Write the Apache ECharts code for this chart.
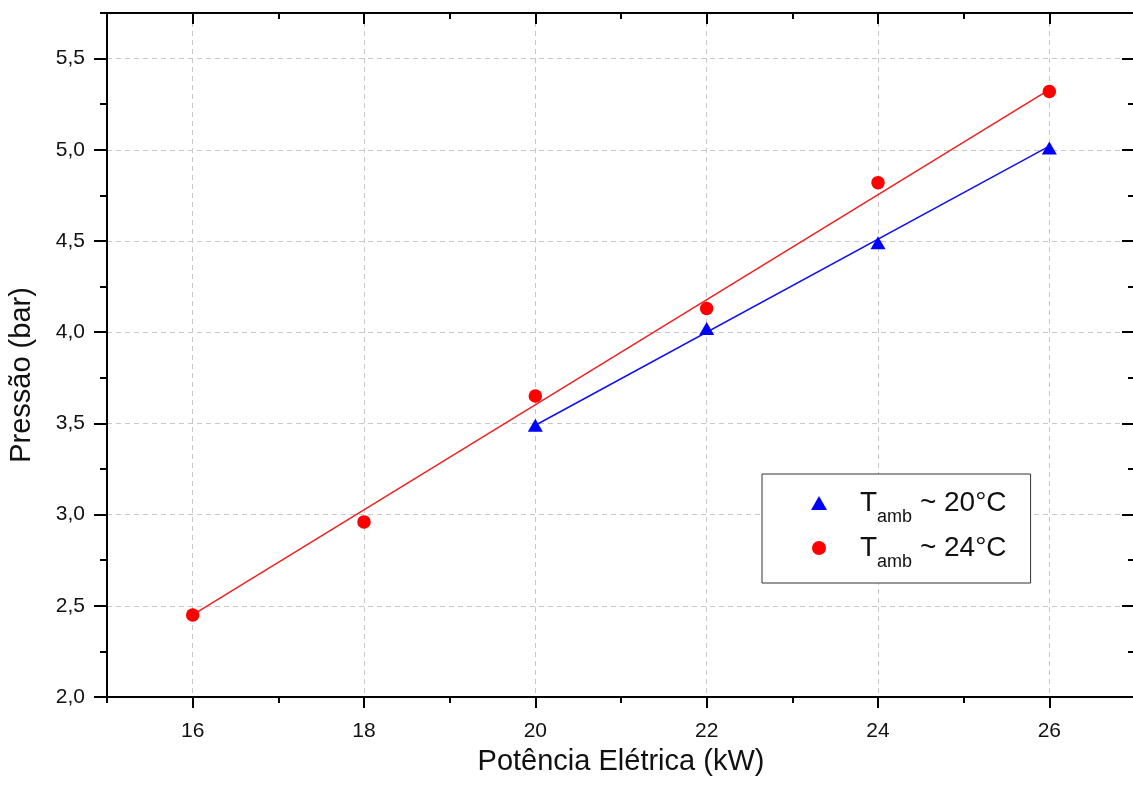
<!DOCTYPE html>
<html><head><meta charset="utf-8">
<script src="https://cdn.jsdelivr.net/npm/echarts@6/dist/echarts.min.js"></script>
<style>html,body{margin:0;padding:0;background:#fff}#c{width:1133px;height:789px}</style>
</head><body><div id="c"></div>
<script>
// ---- data ----
const xMajorTicks = [16, 18, 20, 22, 24, 26];
const yMajorTicks = [2.0, 2.5, 3.0, 3.5, 4.0, 4.5, 5.0, 5.5];
const xRed = [16, 18, 20, 22, 24, 26];
const yRed = [2.45, 2.96, 3.65, 4.13, 4.82, 5.32];
const xBlue = [20, 22, 24, 26];
const yBlue = [3.49, 4.02, 4.49, 5.01];
const fitRedX = [16, 26];
const fitRedY = [2.45, 5.33];
const fitBlueX = [20, 26];
const fitBlueY = [3.49, 5.02];
const seriesNames = ['T20', 'T24'];
const legendTemps = ['20°C', '24°C'];
const xTitle = 'Potência Elétrica (kW)';
const yTitle = 'Pressão (bar)';

const FONT = '"Liberation Sans", Arial, Helvetica, sans-serif';
const pairs = (xs, ys) => xs.map((x, i) => [x, ys[i]]);

const axisLine = { show: true, onZero: false, lineStyle: { color: '#000', width: 2 } };
const grid = { show: true, lineStyle: { color: '#c8c8c8', width: 1, type: [5, 4] } };

function xAx(pos, major, inside) {
  const a = {
    type: 'value', position: pos, min: 15, max: 27,
    axisLine: major ? axisLine : { show: false },
    splitLine: { show: false },
    axisLabel: { show: false },
    axisTick: { show: true, inside: inside, length: major ? 11 : 6, lineStyle: { color: '#000', width: 2 } }
  };
  if (major) { a.axisTick.customValues = xMajorTicks; }
  else { a.interval = 1; }
  return a;
}
function yAx(pos, major, inside) {
  const a = {
    type: 'value', position: pos, min: 2, max: 5.75,
    axisLine: major ? axisLine : { show: false },
    splitLine: { show: false },
    axisLabel: { show: false },
    axisTick: { show: true, inside: inside, length: major ? 13 : 7, lineStyle: { color: '#000', width: 2 } }
  };
  if (major) { a.axisTick.customValues = yMajorTicks; }
  else { a.interval = 0.25; }
  return a;
}

const xMain = xAx('bottom', true, false);
xMain.splitLine = grid;
xMain.axisLabel = { show: true, customValues: xMajorTicks, margin: 24, fontSize: 21, color: '#111', fontFamily: FONT };
xMain.name = xTitle;
xMain.nameLocation = 'middle';
xMain.nameGap = 50;
xMain.nameMoveOverlap = false;
xMain.nameTextStyle = { fontSize: 29, color: '#111', fontFamily: FONT };

const yMain = yAx('left', true, false);
yMain.splitLine = grid;
yMain.axisLabel = { show: true, customValues: yMajorTicks, margin: 22, fontSize: 21, color: '#111', fontFamily: FONT,
  formatter: v => v.toFixed(1).replace('.', ',') };
yMain.name = yTitle;
yMain.nameLocation = 'middle';
yMain.nameGap = 71;
yMain.nameMoveOverlap = false;
yMain.nameTextStyle = { fontSize: 29, color: '#111', fontFamily: FONT, padding: [0, 40, 0, 0] };

const chart = echarts.init(document.getElementById('c'), null, { renderer: 'canvas' });
chart.setOption({
  backgroundColor: '#fff',
  animation: false,
  grid: { left: 107, top: 13, width: 1028, height: 684, containLabel: false, outerBoundsMode: 'none' },
  xAxis: [xMain, xAx('bottom', false, false), xAx('top', true, true), xAx('top', false, true)],
  yAxis: [yMain, yAx('left', false, false), yAx('right', true, true), yAx('right', false, true)],
  legend: {
    orient: 'vertical', left: 762, top: 474,
    padding: [15, 24, 12, 49],
    itemGap: 8, itemWidth: 16, itemHeight: 14,
    borderColor: '#333', borderWidth: 1, backgroundColor: '#fff',
    data: [{ name: seriesNames[0], icon: 'triangle' }, { name: seriesNames[1], icon: 'circle' }],
    formatter: name => '{a|T}{s|amb}{t| ~ ' + legendTemps[seriesNames.indexOf(name)] + '}',
    textStyle: {
      fontFamily: FONT, color: '#111',
      rich: {
        a: { fontSize: 28, lineHeight: 28, padding: [0, 0, 0, 28], verticalAlign: 'top', fontFamily: FONT, color: '#111' },
        s: { fontSize: 18, lineHeight: 18, padding: [19, 0, 0, 0], verticalAlign: 'top', fontFamily: FONT, color: '#111' },
        t: { fontSize: 28, lineHeight: 28, padding: [0, 0, 0, 0], verticalAlign: 'top', fontFamily: FONT, color: '#111' }
      }
    }
  },
  series: [
    { type: 'line', data: pairs(fitRedX, fitRedY), showSymbol: false, silent: true, z: 2,
      lineStyle: { color: '#f02020', width: 1.5 } },
    { type: 'line', data: pairs(fitBlueX, fitBlueY), showSymbol: false, silent: true, z: 2,
      lineStyle: { color: '#1010f0', width: 1.5 } },
    { name: seriesNames[0], type: 'scatter', data: pairs(xBlue, yBlue), symbol: 'triangle', symbolSize: [15, 13], z: 3,
      itemStyle: { color: '#0000ff', opacity: 1 } },
    { name: seriesNames[1], type: 'scatter', data: pairs(xRed, yRed), symbol: 'circle', symbolSize: 13.5, z: 3,
      itemStyle: { color: '#ff0000', opacity: 1 } }
  ]
});
</script></body></html>
